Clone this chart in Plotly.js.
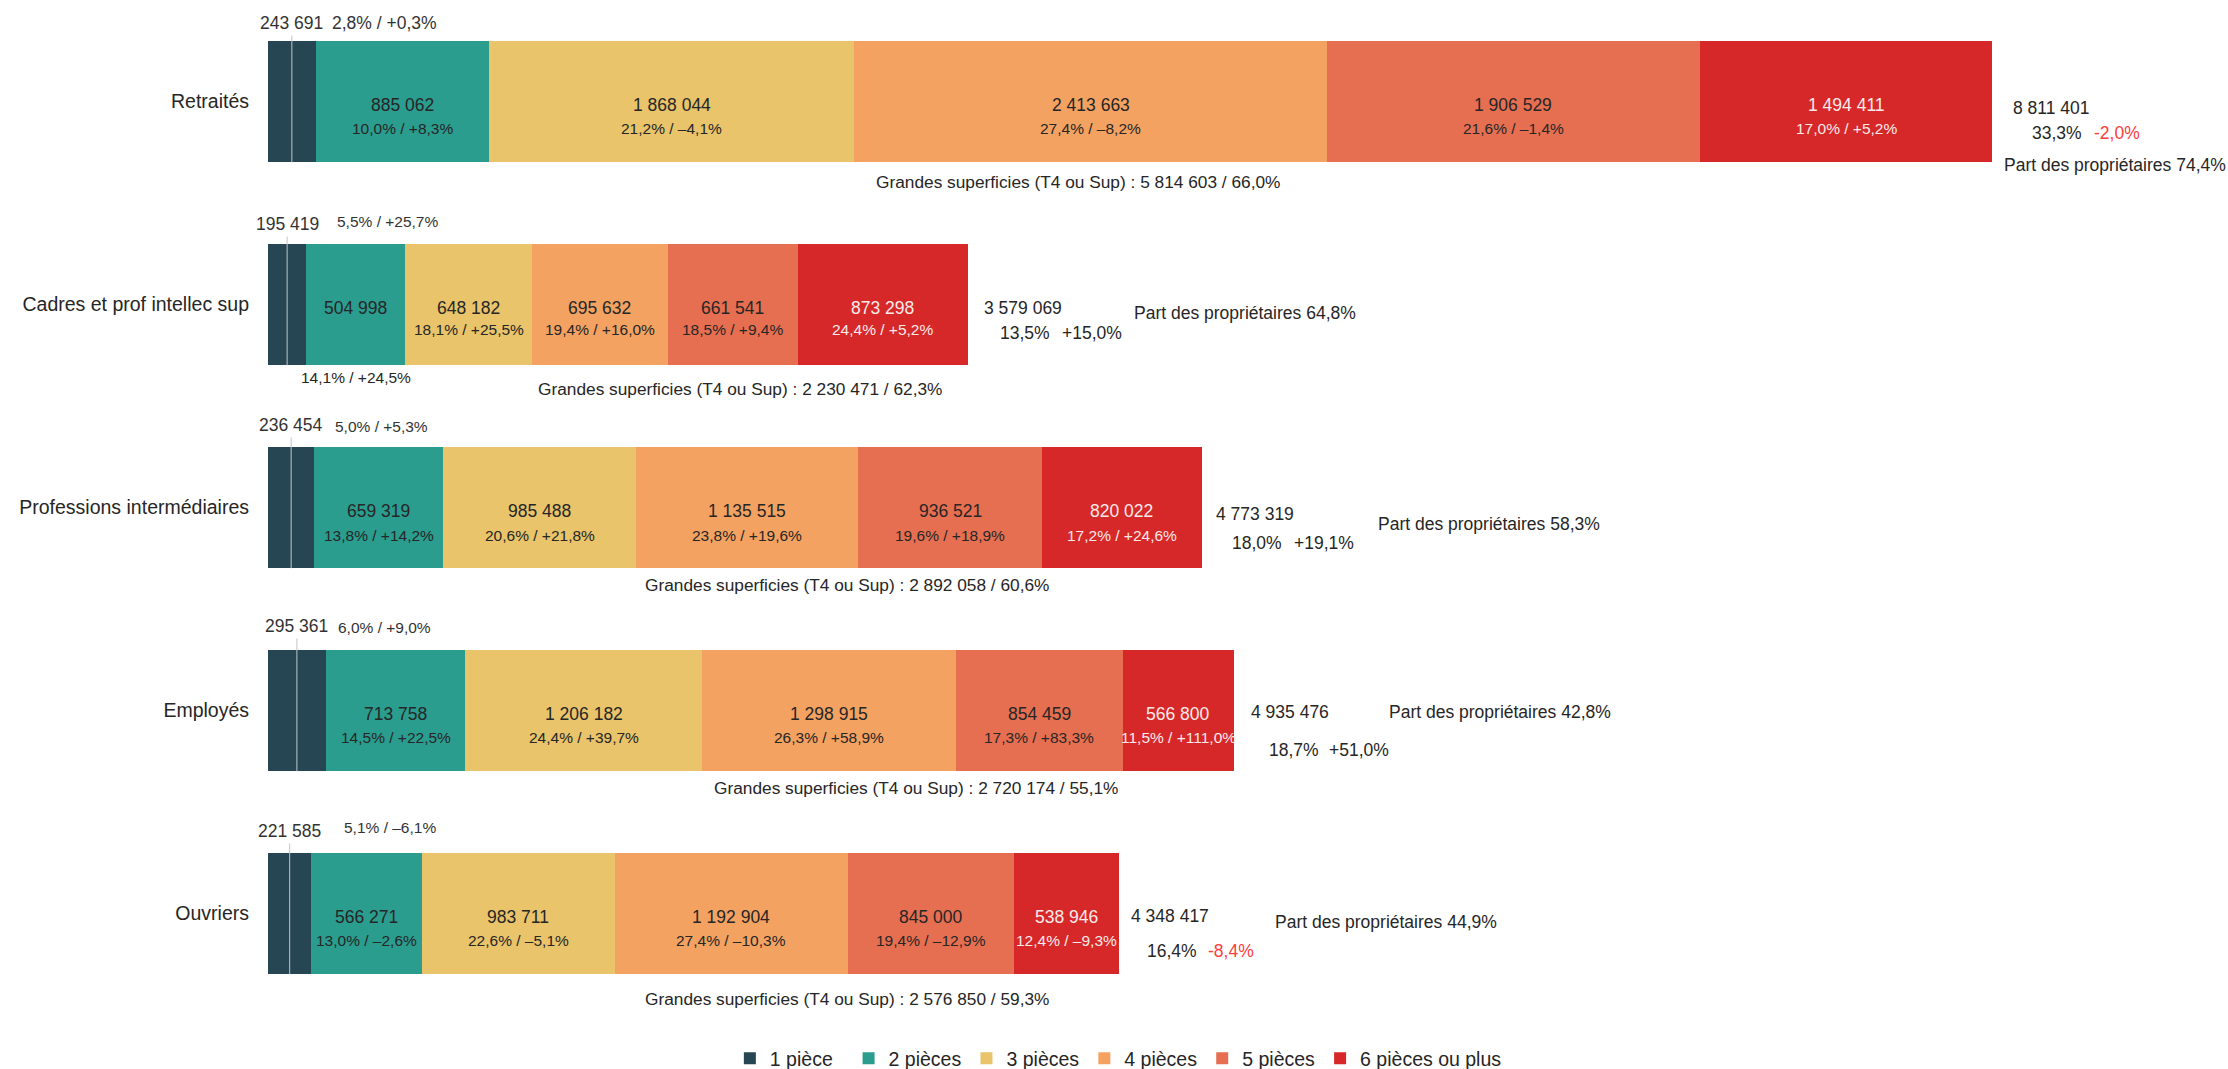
<!DOCTYPE html>
<html><head><meta charset="utf-8">
<script src="https://cdn.plot.ly/plotly-3.0.1.min.js"></script>
<style>html,body{margin:0;padding:0;background:#fff}#chart{width:2228px;height:1069px}</style>
</head><body><div id="chart"></div>
<script>
// ---------- DATA ----------
const categories = ['Retraités', 'Cadres et prof intellec sup', 'Professions intermédiaires', 'Employés', 'Ouvriers'];
const sizeNames = ['1 pièce', '2 pièces', '3 pièces', '4 pièces', '5 pièces', '6 pièces ou plus'];
const pieces1 = [243691, 195419, 236454, 295361, 221585];
const pieces2 = [885062, 504998, 659319, 713758, 566271];
const pieces3 = [1868044, 648182, 985488, 1206182, 983711];
const pieces4 = [2413663, 695632, 1135515, 1298915, 1192904];
const pieces5 = [1906529, 661541, 936521, 854459, 845000];
const pieces6 = [1494411, 873298, 820022, 566800, 538946];
const share1 = ['2,8%', '5,5%', '5,0%', '6,0%', '5,1%'];
const evol1 = ['+0,3%', '+25,7%', '+5,3%', '+9,0%', '–6,1%'];
const share2 = ['10,0%', '14,1%', '13,8%', '14,5%', '13,0%'];
const evol2 = ['+8,3%', '+24,5%', '+14,2%', '+22,5%', '–2,6%'];
const share3 = ['21,2%', '18,1%', '20,6%', '24,4%', '22,6%'];
const evol3 = ['–4,1%', '+25,5%', '+21,8%', '+39,7%', '–5,1%'];
const share4 = ['27,4%', '19,4%', '23,8%', '26,3%', '27,4%'];
const evol4 = ['–8,2%', '+16,0%', '+19,6%', '+58,9%', '–10,3%'];
const share5 = ['21,6%', '18,5%', '19,6%', '17,3%', '19,4%'];
const evol5 = ['–1,4%', '+9,4%', '+18,9%', '+83,3%', '–12,9%'];
const share6 = ['17,0%', '24,4%', '17,2%', '11,5%', '12,4%'];
const evol6 = ['+5,2%', '+5,2%', '+24,6%', '+111,0%', '–9,3%'];
const totals = [8811401, 3579069, 4773319, 4935476, 4348417];
const totalShare = ['33,3%', '13,5%', '18,0%', '18,7%', '16,4%'];
const totalEvol = ['-2,0%', '+15,0%', '+19,1%', '+51,0%', '-8,4%'];
const ownerShare = ['74,4%', '64,8%', '58,3%', '42,8%', '44,9%'];
const bigAreaCount = [5814603, 2230471, 2892058, 2720174, 2576850];
const bigAreaShare = ['66,0%', '62,3%', '60,6%', '55,1%', '59,3%'];

// ---------- STYLE ----------
const colors = ['#264653', '#2a9d8f', '#e9c46a', '#f4a261', '#e76f51', '#d62828'];
const FONT = 'Liberation Sans, Arial, sans-serif';
const DARK = '#262626';
const LIGHT = '#fdeaea';
const NEG = '#ff3b3b';

const series = [pieces1, pieces2, pieces3, pieces4, pieces5, pieces6];
const shares = [share1, share2, share3, share4, share5, share6];
const evols = [evol1, evol2, evol3, evol4, evol5, evol6];

function fmt(n) { return String(n).replace(/\B(?=(\d{3})+(?!\d))/g, ' '); }

// legend padding so every legend entry has the same width as in the original
const legendPad = ['\u00a0\u00a0', '', '', '', '', ''];

const traces = series.map((vals, k) => ({
  type: 'bar', orientation: 'h', name: sizeNames[k] + legendPad[k],
  y: categories, x: vals,
  marker: { color: colors[k], line: { width: 0 } },
  hoverinfo: 'skip'
}));

// label offsets (screen px, down = positive)
const topNumDy = [-79, -81, -83, -85, -83];
const topPctDx = [38, 48, 42, 39, 52];
const topPctDy = [-79, -83, -81, -83, -86];
const topPctSize = [17.5, 15.5, 15.5, 15.5, 15.5];
const segPctDy = [27, 25, 28, 27, 27];
const bigDx = [20, 4, 7, 10, 28];
const bigDy = [80, 84, 77, 77, 85];
const totDx = [19, 14, 12, 15, 10], totDy = [6, 3, 6, 1, 2];
const shDx = [38, 30, 28, 33, 26], shDy = [31, 28, 35, 39, 37];
const evDx = [100, 92, 90, 93, 87];
const ownDx = [10, 164, 174, 153, 154], ownDy = [63, 8, 16, 1, 8];

const annotations = [];
const shapes = [];
function ann(x, yCat, text, o) {
  annotations.push(Object.assign({
    x: x, y: yCat, xref: 'x', yref: 'y', text: text, showarrow: false,
    xanchor: 'center', yanchor: 'middle',
    font: { family: FONT, size: 17.5, color: DARK }
  }, o));
}

categories.forEach((cat, i) => {
  let cum = 0;
  const starts = [];
  series.forEach((vals, k) => { starts.push(cum); cum += vals[i]; });
  const end = cum;
  // 1 pièce: labels above with leader line
  const c1 = series[0][i] / 2;
  ann(c1, cat, fmt(series[0][i]), { yshift: -topNumDy[i], font: { family: FONT, size: 17.5, color: '#333' } });
  ann(c1, cat, share1[i] + ' / ' + evol1[i], { xanchor: 'left', xshift: topPctDx[i], yshift: -topPctDy[i], font: { family: FONT, size: topPctSize[i], color: '#333' } });
  shapes.push({ type: 'line', xref: 'x', yref: 'y', x0: c1, x1: c1, y0: i + 0.3, y1: i + (topNumDy[i] + 13) / 203, line: { color: '#c4c4c4', width: 1 } });
  // segments 2..6
  for (let k = 1; k < 6; k++) {
    const cx = starts[k] + series[k][i] / 2;
    const col = k === 5 ? LIGHT : DARK;
    ann(cx, cat, fmt(series[k][i]), { yshift: -3, font: { family: FONT, size: 17.5, color: col } });
    let dy = segPctDy[i];
    if (i === 1 && k === 1) dy = 73;
    ann(cx, cat, shares[k][i] + ' / ' + evols[k][i], { yshift: -dy, font: { family: FONT, size: 15.5, color: col } });
  }
  // Grandes superficies
  ann(starts[3], cat, 'Grandes superficies (T4 ou Sup) : ' + fmt(bigAreaCount[i]) + ' / ' + bigAreaShare[i],
    { xanchor: 'left', xshift: bigDx[i], yshift: -bigDy[i], font: { family: FONT, size: 17.3, color: DARK } });
  // right side totals
  ann(end, cat, fmt(totals[i]), { xanchor: 'left', xshift: totDx[i], yshift: -totDy[i] });
  ann(end, cat, totalShare[i], { xanchor: 'left', xshift: shDx[i], yshift: -shDy[i] });
  ann(end, cat, totalEvol[i], { xanchor: 'left', xshift: evDx[i], yshift: -shDy[i],
    font: { family: FONT, size: 17.5, color: totalEvol[i].startsWith('-') ? NEG : DARK } });
  ann(end, cat, 'Part des propriétaires ' + ownerShare[i], { xanchor: 'left', xshift: ownDx[i], yshift: -ownDy[i] });
});

const layout = {
  width: 2228, height: 1069,
  margin: { l: 268, r: 3, t: 0, b: 54, pad: 0, autoexpand: false },
  paper_bgcolor: '#ffffff', plot_bgcolor: '#ffffff',
  barmode: 'stack', bargap: 0.4,
  font: { family: FONT, color: DARK },
  xaxis: { range: [0, 1e7], visible: false, fixedrange: true },
  yaxis: {
    type: 'category', autorange: false, range: [4.5, -0.5],
    ticks: '', showline: false, showgrid: false, zeroline: false,
    tickfont: { family: FONT, size: 19.5, color: DARK }, ticklabelstandoff: 18, fixedrange: true
  },
  showlegend: true,
  legend: {
    orientation: 'h', x: 0.236, xanchor: 'left', y: -0.043, yanchor: 'middle',
    font: { family: FONT, size: 19.5, color: DARK }, traceorder: 'normal'
  },
  annotations: annotations,
  shapes: shapes
};

Plotly.newPlot('chart', traces, layout, { displayModeBar: false, staticPlot: true });
</script>
</body></html>
